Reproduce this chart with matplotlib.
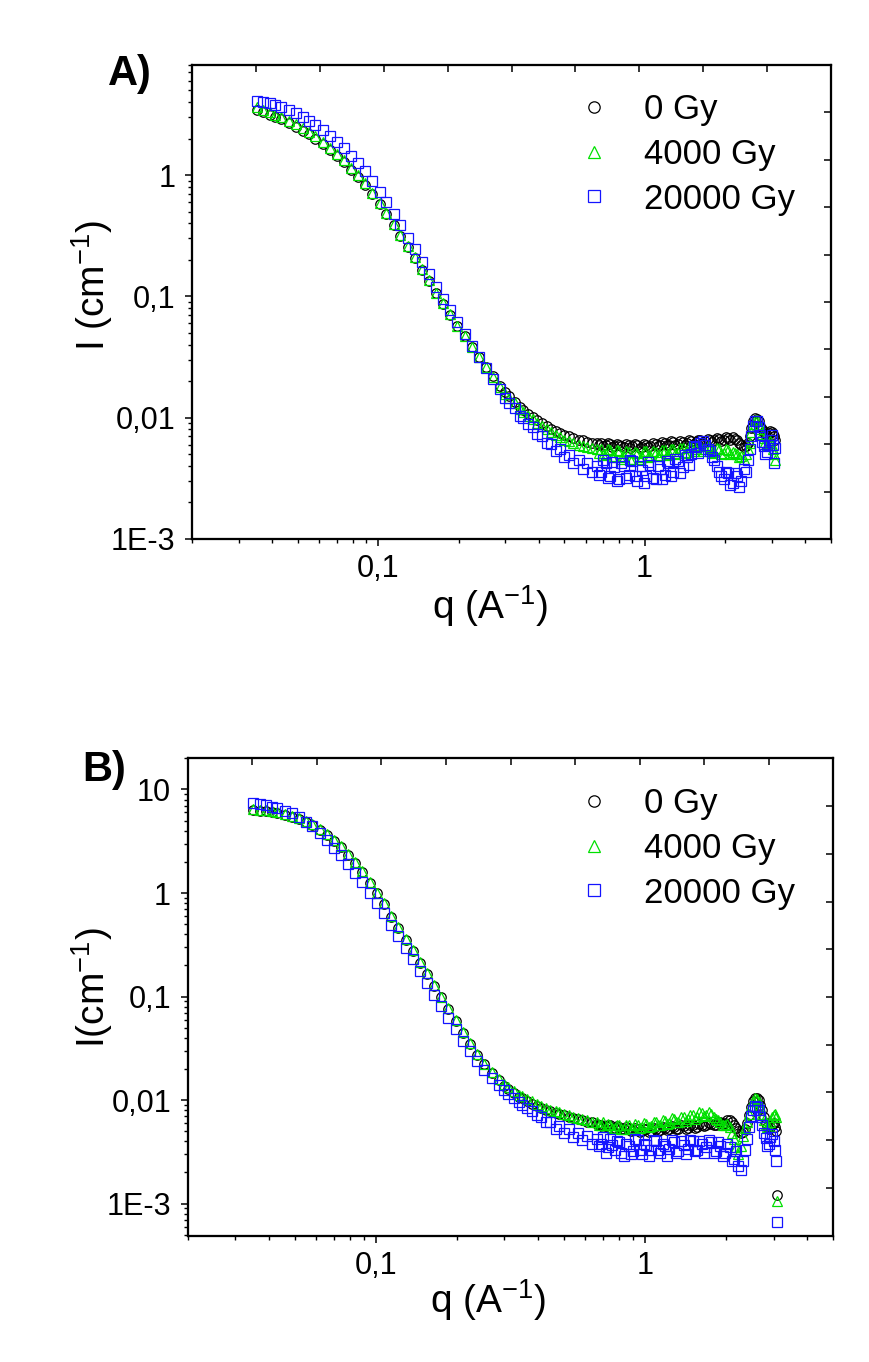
import matplotlib
matplotlib.use("Agg")
import matplotlib.pyplot as plt
from matplotlib.ticker import FixedLocator, FixedFormatter, LogLocator, NullFormatter

plt.rcParams['font.family'] = ['Liberation Sans', 'DejaVu Sans']

# ---------------- data ----------------
q = [0.035, 0.037, 0.039, 0.041, 0.043, 0.046, 0.049, 0.052, 0.055, 0.058,
     0.062, 0.066, 0.070, 0.074, 0.079, 0.084, 0.089, 0.095, 0.101, 0.107,
     0.114, 0.121, 0.129, 0.137, 0.146, 0.155, 0.165, 0.175, 0.186, 0.198,
     0.211, 0.224, 0.238, 0.253, 0.269, 0.286,
     0.30, 0.31, 0.325, 0.34, 0.35, 0.365, 0.38, 0.395, 0.41, 0.43,
     0.445, 0.465, 0.48, 0.50, 0.52, 0.54, 0.565, 0.585, 0.61, 0.635,
     0.66, 0.672, 0.685, 0.70, 0.715, 0.727, 0.74, 0.755, 0.77, 0.785,
     0.80, 0.817, 0.835, 0.852, 0.87, 0.885, 0.90, 0.92, 0.94, 0.957,
     0.975, 0.992, 1.01, 1.03, 1.05, 1.075, 1.10, 1.12, 1.14, 1.165,
     1.19, 1.21, 1.23, 1.255, 1.28, 1.305, 1.33, 1.36, 1.39, 1.415,
     1.44, 1.47, 1.50, 1.53, 1.56, 1.59, 1.62, 1.655, 1.69, 1.725,
     1.76, 1.795, 1.83, 1.865, 1.90, 1.94, 1.98, 2.02, 2.06, 2.10,
     2.14, 2.18, 2.22, 2.265, 2.31, 2.355, 2.40, 2.44, 2.48, 2.52,
     2.56, 2.60, 2.64, 2.68, 2.72, 2.76, 2.80, 2.84, 2.88, 2.92,
     2.96, 3.00, 3.04, 3.07, 3.10]

labels = ['0 Gy', '4000 Gy', '20000 Gy']

# Panel A
A_0Gy = [3.45, 3.29, 3.14, 3.00, 2.87, 2.68, 2.50, 2.32, 2.16, 2.00,
         1.80, 1.61, 1.44, 1.29, 1.11, 0.964, 0.832, 0.692, 0.575, 0.479,
         0.387, 0.316, 0.254, 0.207, 0.166, 0.135, 0.106, 0.0871, 0.0708, 0.0575,
         0.0468, 0.0385, 0.0316, 0.0263, 0.0219, 0.0184,
         0.0162, 0.0150, 0.0135, 0.0123, 0.0116, 0.0108, 0.0101, 0.0096, 0.0090, 0.0085,
         0.0081, 0.0078, 0.0075, 0.0072, 0.0070, 0.0068, 0.0066, 0.0065, 0.0063, 0.0062,
         0.0062, 0.0060, 0.0062, 0.0058, 0.0059, 0.0062, 0.0061, 0.0057, 0.0058, 0.0061,
         0.0060, 0.0058, 0.0057, 0.0061, 0.0060, 0.0056, 0.0058, 0.0061, 0.0059, 0.0056,
         0.0057, 0.0061, 0.0060, 0.0057, 0.0058, 0.0062, 0.0061, 0.0058, 0.0059, 0.0063,
         0.0062, 0.0059, 0.0060, 0.0064, 0.0063, 0.0060, 0.0061, 0.0064, 0.0063, 0.0060,
         0.0062, 0.0065, 0.0064, 0.0061, 0.0063, 0.0066, 0.0065, 0.0062, 0.0064, 0.0067,
         0.0066, 0.0063, 0.0065, 0.0068, 0.0067, 0.0064, 0.0066, 0.0069, 0.0068, 0.0066,
         0.0069, 0.0067, 0.0066, 0.0062, 0.0060, 0.0057, 0.0058, 0.0062, 0.0070, 0.0082,
         0.0093, 0.0099, 0.0098, 0.0093, 0.0086, 0.0080, 0.0076, 0.0073, 0.0072, 0.0075,
         0.0077, 0.0076, 0.0074, 0.0070, 0.0066]
A_4000Gy = [3.62, 3.45, 3.30, 3.15, 3.01, 2.81, 2.62, 2.43, 2.26, 2.09,
            1.88, 1.68, 1.50, 1.34, 1.15, 0.995, 0.857, 0.711, 0.590, 0.490,
            0.395, 0.322, 0.258, 0.210, 0.168, 0.136, 0.107, 0.0875, 0.0710, 0.0575,
            0.0468, 0.0384, 0.0314, 0.0260, 0.0216, 0.0180,
            0.0158, 0.0146, 0.0131, 0.0119, 0.0112, 0.0104, 0.0097, 0.0090, 0.0085, 0.0080,
            0.0076, 0.0072, 0.0069, 0.0066, 0.0064, 0.0062, 0.0060, 0.0058, 0.0057, 0.0056,
            0.0055, 0.0051, 0.0055, 0.0049, 0.0050, 0.0055, 0.0054, 0.0047, 0.0048, 0.0054,
            0.0053, 0.0046, 0.0047, 0.0053, 0.0052, 0.0046, 0.0046, 0.0052, 0.0051, 0.0046,
            0.0047, 0.0053, 0.0053, 0.0047, 0.0048, 0.0053, 0.0052, 0.0048, 0.0049, 0.0054,
            0.0054, 0.0049, 0.0050, 0.0055, 0.0055, 0.0050, 0.0051, 0.0056, 0.0056, 0.0051,
            0.0052, 0.0057, 0.0057, 0.0053, 0.0055, 0.0059, 0.0058, 0.0053, 0.0055, 0.0058,
            0.0056, 0.0051, 0.0052, 0.0056, 0.0055, 0.0050, 0.0051, 0.0055, 0.0054, 0.0050,
            0.0052, 0.0051, 0.0050, 0.0047, 0.0048, 0.0046, 0.0050, 0.0055, 0.0062, 0.0076,
            0.0088, 0.0096, 0.0095, 0.0088, 0.0080, 0.0073, 0.0068, 0.0063, 0.0060, 0.0062,
            0.0064, 0.0060, 0.0055, 0.0050, 0.0045]
A_20000Gy = [4.05, 3.98, 3.90, 3.80, 3.62, 3.42, 3.22, 3.01, 2.80, 2.60,
             2.34, 2.09, 1.87, 1.68, 1.44, 1.25, 1.07, 0.886, 0.730, 0.604,
             0.480, 0.386, 0.305, 0.244, 0.193, 0.154, 0.119, 0.0958, 0.0765, 0.0610,
             0.0487, 0.0393, 0.0316, 0.0258, 0.0210, 0.0171,
             0.0146, 0.0132, 0.0120, 0.0104, 0.0099, 0.0088, 0.0084, 0.0074, 0.0071, 0.0062,
             0.0061, 0.0053, 0.0055, 0.0047, 0.0049, 0.0042, 0.0045, 0.0038, 0.0042, 0.0036,
             0.0040, 0.0034, 0.0036, 0.0045, 0.0042, 0.0032, 0.0033, 0.0043, 0.0039, 0.0030,
             0.0031, 0.0042, 0.0040, 0.0032, 0.0034, 0.0045, 0.0044, 0.0033, 0.0030, 0.0040,
             0.0037, 0.0029, 0.0033, 0.0043, 0.0041, 0.0032, 0.0031, 0.0040, 0.0038, 0.0031,
             0.0034, 0.0044, 0.0042, 0.0033, 0.0036, 0.0046, 0.0044, 0.0035, 0.0039, 0.0049,
             0.0047, 0.0041, 0.0050, 0.0058, 0.0057, 0.0051, 0.0062, 0.0064, 0.0060, 0.0055,
             0.0053, 0.0047, 0.0045, 0.0040, 0.0036, 0.0033, 0.0031, 0.0036, 0.0035, 0.0028,
             0.0029, 0.0035, 0.0033, 0.0027, 0.0030, 0.0038, 0.0036, 0.0045, 0.0055, 0.0070,
             0.0085, 0.0093, 0.0094, 0.0083, 0.0072, 0.0063, 0.0058, 0.0050, 0.0052, 0.0060,
             0.0066, 0.0072, 0.0060, 0.0042, 0.0056]

# Panel B
B_0Gy = [6.31, 6.24, 6.15, 6.05, 5.93, 5.71, 5.47, 5.18, 4.85, 4.52,
         4.06, 3.61, 3.19, 2.80, 2.35, 1.95, 1.61, 1.26, 0.99, 0.776,
         0.586, 0.457, 0.351, 0.274, 0.210, 0.164, 0.126, 0.0982, 0.0759, 0.0582,
         0.0447, 0.0351, 0.0275, 0.0221, 0.0182, 0.0155,
         0.0138, 0.0129, 0.0117, 0.0108, 0.0104, 0.0098, 0.0092, 0.0088, 0.0084, 0.0080,
         0.0078, 0.0075, 0.0073, 0.0071, 0.0069, 0.0067, 0.0065, 0.0064, 0.0062, 0.0061,
         0.0059, 0.0057, 0.0058, 0.0055, 0.0056, 0.0058, 0.0057, 0.0053, 0.0054, 0.0056,
         0.0055, 0.0052, 0.0052, 0.0055, 0.0054, 0.0050, 0.0051, 0.0054, 0.0053, 0.0049,
         0.0050, 0.0053, 0.0052, 0.0049, 0.0050, 0.0054, 0.0053, 0.0050, 0.0051, 0.0055,
         0.0054, 0.0051, 0.0052, 0.0056, 0.0055, 0.0052, 0.0053, 0.0057, 0.0056, 0.0053,
         0.0054, 0.0058, 0.0057, 0.0054, 0.0055, 0.0059, 0.0058, 0.0056, 0.0057, 0.0060,
         0.0059, 0.0057, 0.0058, 0.0062, 0.0061, 0.0059, 0.0060, 0.0064, 0.0064, 0.0061,
         0.0058, 0.0054, 0.0050, 0.0048, 0.0049, 0.0053, 0.0060, 0.0071, 0.0085, 0.0097,
         0.0104, 0.0105, 0.0100, 0.0090, 0.0080, 0.0068, 0.0060, 0.0055, 0.0052, 0.0055,
         0.0058, 0.0060, 0.0055, 0.0050, 0.0012]
B_4000Gy = [6.44, 6.36, 6.27, 6.17, 6.05, 5.82, 5.58, 5.28, 4.95, 4.61,
            4.14, 3.68, 3.25, 2.86, 2.40, 1.99, 1.64, 1.29, 1.01, 0.792,
            0.598, 0.466, 0.358, 0.279, 0.214, 0.167, 0.129, 0.100, 0.0774, 0.0594,
            0.0456, 0.0358, 0.0281, 0.0225, 0.0186, 0.0160,
            0.0144, 0.0135, 0.0123, 0.0113, 0.0109, 0.0103, 0.0097, 0.0092, 0.0088, 0.0084,
            0.0081, 0.0078, 0.0076, 0.0073, 0.0071, 0.0069, 0.0067, 0.0066, 0.0064, 0.0062,
            0.0061, 0.0057, 0.0058, 0.0061, 0.0055, 0.0059, 0.0058, 0.0054, 0.0054, 0.0058,
            0.0057, 0.0053, 0.0053, 0.0058, 0.0057, 0.0053, 0.0054, 0.0059, 0.0058, 0.0054,
            0.0055, 0.0060, 0.0059, 0.0055, 0.0056, 0.0062, 0.0061, 0.0057, 0.0058, 0.0064,
            0.0063, 0.0059, 0.0060, 0.0067, 0.0066, 0.0061, 0.0062, 0.0069, 0.0068, 0.0063,
            0.0065, 0.0072, 0.0071, 0.0066, 0.0068, 0.0076, 0.0075, 0.0070, 0.0072, 0.0076,
            0.0074, 0.0068, 0.0066, 0.0064, 0.0062, 0.0058, 0.0057, 0.0059, 0.0055, 0.0048,
            0.0042, 0.0035, 0.0030, 0.0036, 0.0045, 0.0054, 0.0062, 0.0074, 0.0088, 0.0099,
            0.0105, 0.0103, 0.0096, 0.0085, 0.0074, 0.0064, 0.0058, 0.0055, 0.0055, 0.0061,
            0.0068, 0.0072, 0.0074, 0.0068, 0.00105]
B_20000Gy = [7.48, 7.28, 7.05, 6.82, 6.59, 6.24, 5.92, 5.41, 4.89, 4.40,
             3.77, 3.22, 2.75, 2.34, 1.91, 1.56, 1.27, 1.01, 0.798, 0.637,
             0.494, 0.387, 0.297, 0.231, 0.176, 0.136, 0.104, 0.0807, 0.0625, 0.0486,
             0.0370, 0.0295, 0.0237, 0.0195, 0.0163, 0.0139,
             0.0124, 0.0115, 0.0104, 0.0095, 0.0090, 0.0083, 0.0078, 0.0071, 0.0069, 0.0061,
             0.0062, 0.0053, 0.0056, 0.0048, 0.0052, 0.0044, 0.0048, 0.0041, 0.0045, 0.0038,
             0.0042, 0.0036, 0.0038, 0.0044, 0.0031, 0.0035, 0.0042, 0.0037, 0.0033, 0.0040,
             0.0039, 0.0031, 0.0029, 0.0038, 0.0036, 0.0030, 0.0032, 0.0042, 0.0041, 0.0033,
             0.0030, 0.0038, 0.0037, 0.0029, 0.0033, 0.0041, 0.0040, 0.0033, 0.0031, 0.0038,
             0.0036, 0.0029, 0.0034, 0.0041, 0.0039, 0.0031, 0.0032, 0.0040, 0.0037, 0.0030,
             0.0034, 0.0041, 0.0040, 0.0032, 0.0033, 0.0040, 0.0038, 0.0031, 0.0035, 0.0041,
             0.0039, 0.0031, 0.0032, 0.0039, 0.0036, 0.0029, 0.0031, 0.0038, 0.0035, 0.0026,
             0.0027, 0.0032, 0.0023, 0.0021, 0.0026, 0.0033, 0.0042, 0.0055, 0.0070, 0.0081,
             0.0087, 0.0086, 0.0080, 0.0068, 0.0058, 0.0048, 0.0043, 0.0036, 0.0038, 0.0044,
             0.0047, 0.0040, 0.0033, 0.0026, 0.00067]

x_ticks = [0.1, 1]
x_ticklabels = ['0,1', '1']
yA_ticks = [1e-3, 1e-2, 1e-1, 1]
yA_ticklabels = ['1E-3', '0,01', '0,1', '1']
yB_ticks = [1e-3, 1e-2, 1e-1, 1, 10]
yB_ticklabels = ['1E-3', '0,01', '0,1', '1', '10']

# ---------------- styles ----------------
colors = ['#000000', '#00e000', '#1414ff']
markers = ['o', '^', 's']
msizes = [6.8, 7.0, 7.4]

W, H = 870, 1362
fig = plt.figure(figsize=(W / 100, H / 100), dpi=100)
fig.patch.set_facecolor('white')


def px_axes(l, t, r, b):
    return [l / W, 1 - b / H, (r - l) / W, (b - t) / H]


def make_panel(rect, series, ylim, yticks, yticklabels, ylabel, ylab_pos,
               xlab_pos, letter, letter_pos, leg_anchor):
    ax = fig.add_axes(rect)
    ax.set_xscale('log')
    ax.set_yscale('log')
    for ys, c, m, ms, lab in zip(series, colors, markers, msizes, labels):
        ax.plot(q, ys, linestyle='none', marker=m, markersize=ms,
                markerfacecolor='none', markeredgecolor=c, markeredgewidth=0.9,
                label=lab)
    ax.set_xlim(0.02, 5)
    ax.set_ylim(*ylim)
    ax.xaxis.set_major_locator(FixedLocator(x_ticks))
    ax.xaxis.set_major_formatter(FixedFormatter(x_ticklabels))
    ax.yaxis.set_major_locator(FixedLocator(yticks))
    ax.yaxis.set_major_formatter(FixedFormatter(yticklabels))
    for axis in (ax.xaxis, ax.yaxis):
        axis.set_minor_locator(LogLocator(base=10, subs=range(2, 10), numticks=50))
        axis.set_minor_formatter(NullFormatter())
    ax.tick_params(which='major', direction='out', length=5, width=1.1,
                   labelsize=22, top=False, right=False)
    ax.tick_params(axis='x', which='major', pad=6)
    ax.tick_params(axis='y', which='major', pad=7)
    ax.tick_params(which='minor', direction='out', length=3, width=1.0,
                   top=False, right=False)
    for sp in ax.spines.values():
        sp.set_linewidth(1.5)

    # top / right axes: evenly spaced inward ticks, no labels
    axt = ax.twiny()
    axt.set_xlim(0, 1)
    axt.set_xticks([0.1, 0.2, 0.3, 0.4, 0.5, 0.6, 0.7, 0.8, 0.9])
    axt.tick_params(axis='x', direction='in', length=5, width=1.1,
                    labeltop=False, top=True)
    axr = ax.twinx()
    axr.set_ylim(0, 1)
    axr.set_yticks([0.1, 0.2, 0.3, 0.4, 0.5, 0.6, 0.7, 0.8, 0.9])
    axr.tick_params(axis='y', direction='in', length=5, width=1.1,
                    labelright=False, right=True)
    for a in (axt, axr):
        for sp in a.spines.values():
            sp.set_linewidth(1.5)

    axr.legend(*ax.get_legend_handles_labels(), loc='upper left',
               bbox_to_anchor=leg_anchor, bbox_transform=fig.transFigure,
               frameon=False, fontsize=25, handlelength=1.0,
               handletextpad=0.95, labelspacing=0.34, borderpad=0,
               borderaxespad=0, markerscale=1.2)

    fig.text(ylab_pos[0] / W, 1 - ylab_pos[1] / H, ylabel, rotation=90,
             ha='center', va='center', fontsize=28)
    fig.text(xlab_pos[0] / W, 1 - xlab_pos[1] / H, r'q (A$^{\mathregular{-1}}$)',
             ha='center', va='center', fontsize=28)
    fig.text(letter_pos[0] / W, 1 - letter_pos[1] / H, letter,
             ha='center', va='center', fontsize=30, fontweight='bold')
    return ax


make_panel(px_axes(192.3, 65, 830.7, 539), [A_0Gy, A_4000Gy, A_20000Gy],
           (1e-3, 8.07), yA_ticks, yA_ticklabels,
           r'I (cm$^{\mathregular{-1}}$)', (92, 285), (490, 606),
           'A)', (130, 74), (576.6 / W, 1 - 93 / H))

make_panel(px_axes(187.7, 758.3, 833.3, 1235.7), [B_0Gy, B_4000Gy, B_20000Gy],
           (4.9e-4, 20), yB_ticks, yB_ticklabels,
           r'I(cm$^{\mathregular{-1}}$)', (92, 988), (488, 1300),
           'B)', (104, 770), (576.6 / W, 1 - 787 / H))

fig.savefig('out.png', dpi=100, facecolor='white')
